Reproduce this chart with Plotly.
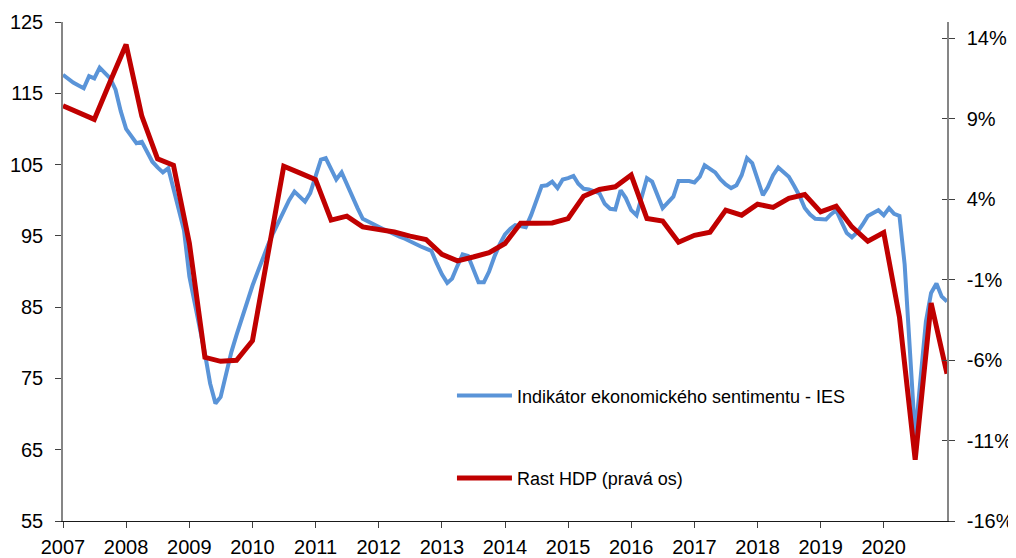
import plotly.graph_objects as go
import pandas as pd

# Indikátor ekonomického sentimentu (monthly, left axis)
ies_values = [
    117.6, 117.0, 116.5, 116.1, 115.7, 117.4, 117.1, 118.6, 117.9, 117.1,
    115.5, 112.5, 110.0, 108.9, 108.0, 108.2, 106.8, 105.4, 104.6, 103.9,
    104.5, 101.6, 98.7, 95.8, 89.3, 85.5, 82.5, 78.5, 74.3, 71.5,
    72.4, 75.5, 78.7, 81.1, 83.5, 85.8, 88.0, 90.0, 91.9, 93.7,
    95.4, 97.0, 98.6, 100.0, 101.2, 100.5, 99.8, 101.0, 103.4, 105.7,
    105.9, 104.4, 102.9, 103.9, 102.2, 100.5, 98.9, 97.4, 97.0, 96.6,
    96.2, 95.9, 95.6, 95.2, 94.9, 94.6, 94.2, 93.9, 93.5, 93.2,
    92.9, 91.2, 89.6, 88.4, 89.0, 90.8, 92.4, 92.2, 90.3, 88.5,
    88.5, 90.0, 92.1, 93.8, 95.2, 96.0, 96.5, 96.4, 96.2, 97.9,
    100.0, 102.0, 102.1, 102.6, 101.7, 102.9, 103.1, 103.4, 102.3, 101.6,
    101.5, 101.3, 101.0, 99.5, 98.8, 98.7, 101.4, 100.3, 98.6, 97.9,
    100.5, 103.1, 102.6, 100.7, 98.9, 99.7, 100.5, 102.7, 102.7, 102.7,
    102.5, 103.3, 104.9, 104.4, 103.9, 102.9, 102.2, 101.7, 102.1, 103.5,
    105.9, 105.2, 103.0, 100.7, 101.8, 103.5, 104.6, 104.0, 103.3, 102.0,
    100.6, 98.9, 98.0, 97.4, 97.3, 97.3, 98.0, 98.6, 97.0, 95.4,
    94.8, 95.5, 96.6, 97.8, 98.2, 98.6, 97.9, 98.9, 98.1, 97.8,
    91.0, 79.0, 66.8, 75.0, 83.0, 87.0, 88.3, 86.5, 85.8,
]

# Rast HDP, % (quarterly, right axis)
gdp_values = [
    9.8, 9.4, 8.95, 11.3, 13.6, 9.15, 6.5, 6.1, 1.26, -5.83,
    -6.08, -6.02, -4.8, 0.6, 6.04, 5.63, 5.21, 2.69, 2.94, 2.27,
    2.1, 1.95, 1.7, 1.49, 0.57, 0.16, 0.4, 0.67, 1.24, 2.5,
    2.5, 2.52, 2.79, 4.18, 4.6, 4.76, 5.49, 2.79, 2.64, 1.32,
    1.75, 1.94, 3.31, 3.0, 3.68, 3.48, 4.04, 4.28, 3.2, 3.56,
    2.27, 1.38, 1.92, -3.33, -12.2, -2.46, -6.85,
]

year_labels = [str(y) for y in range(2007, 2021)]
left_ticks = [55, 65, 75, 85, 95, 105, 115, 125]
right_ticks = [-16, -11, -6, -1, 4, 9, 14]
right_labels = [f"{v}%" for v in right_ticks]
ies_name = "Indikátor ekonomického sentimentu - IES"
gdp_name = "Rast HDP (pravá os)"

ies_dates = pd.date_range("2007-01-01", periods=len(ies_values), freq="MS")
gdp_dates = pd.date_range("2007-01-01", periods=len(gdp_values), freq="3MS")
year_ticks = [f"{y}-01-01" for y in year_labels]

FONT = "Liberation Sans, Arial, sans-serif"

fig = go.Figure()
fig.add_trace(go.Scatter(
    x=ies_dates, y=ies_values, mode="lines", name=ies_name,
    line=dict(color="#5A94D8", width=4), legendgroup="a",
))
fig.add_trace(go.Scatter(
    x=gdp_dates, y=gdp_values, mode="lines", name=gdp_name,
    line=dict(color="#C00000", width=5), yaxis="y2", legendgroup="b",
))
fig.add_trace(go.Scatter(
    x=[gdp_dates[0]], y=[None], yaxis="y3", mode="lines",
    showlegend=False, hoverinfo="skip",
))

fig.update_layout(
    width=1008, height=550,
    margin=dict(l=55, r=69, t=14, b=37),
    paper_bgcolor="white", plot_bgcolor="white",
    font=dict(family=FONT, size=20, color="black"),
    showlegend=True,
    legend=dict(
        x=0.44, y=0.288, xanchor="left", yanchor="top",
        bgcolor="rgba(0,0,0,0)", font=dict(size=18, family=FONT),
        tracegroupgap=56, itemwidth=55,
    ),
    xaxis=dict(
        type="date", range=["2007-01-01", "2021-01-01"],
        tickvals=year_ticks, ticktext=year_labels,
        ticks="outside", ticklen=6, tickcolor="#404040",
        showline=True, linecolor="#1a1a1a", linewidth=1,
        showgrid=False, zeroline=False, tickangle=0,
        tickfont=dict(size=20), ticklabelstandoff=2, automargin=False,
    ),
    yaxis=dict(
        range=[55, 125], tickvals=left_ticks,
        ticktext=[str(v) for v in left_ticks],
        ticks="outside", ticklen=6, tickcolor="#404040",
        showline=True, linecolor="#868686", linewidth=1.5,
        showgrid=False, zeroline=False, tickfont=dict(size=20),
        ticklabelstandoff=8, automargin=False,
    ),
    yaxis2=dict(
        overlaying="y", side="right", anchor="x",
        range=[-16, 15], tickvals=right_ticks, ticktext=right_labels,
        ticks="outside", ticklen=6, tickcolor="#404040",
        showline=True, linecolor="#868686", linewidth=1.5,
        showgrid=False, zeroline=False, tickfont=dict(size=20),
        ticklabelstandoff=8, automargin=False,
    ),
    yaxis3=dict(
        overlaying="y", side="right", anchor="x",
        range=[-16, 15], tickvals=right_ticks,
        ticks="inside", ticklen=5, tickcolor="#404040",
        showticklabels=False, showline=False,
        showgrid=False, zeroline=False, automargin=False,
    ),
)

fig.write_html("out.html")
